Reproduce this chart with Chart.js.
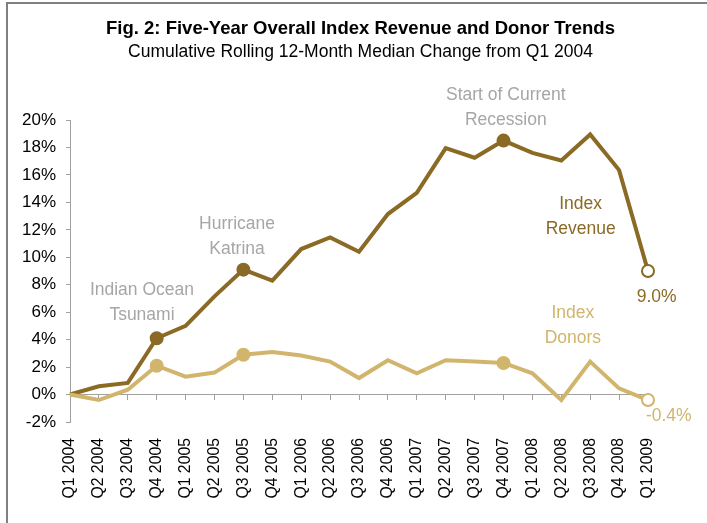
<!DOCTYPE html>
<html>
<head>
<meta charset="utf-8">
<script src="https://cdn.jsdelivr.net/npm/chart.js@4/dist/chart.umd.min.js"></script>
<style>
  body { margin: 0; background: #fff; }
  canvas { display: block; }
</style>
</head>
<body>
<canvas id="chart" width="707" height="523"></canvas>
<script>
const quarters = ["Q1 2004","Q2 2004","Q3 2004","Q4 2004","Q1 2005","Q2 2005","Q3 2005","Q4 2005",
    "Q1 2006","Q2 2006","Q3 2006","Q4 2006","Q1 2007","Q2 2007","Q3 2007","Q4 2007",
    "Q1 2008","Q2 2008","Q3 2008","Q4 2008","Q1 2009"];
const revenue = [0, 0.6, 0.85, 4.1, 5.0, 7.15, 9.1, 8.3, 10.6, 11.45, 10.4, 13.15, 14.7, 17.95, 17.25, 18.5, 17.6, 17.05, 18.95, 16.35, 9.0];
const donors  = [0, -0.4, 0.35, 2.1, 1.3, 1.6, 2.9, 3.1, 2.85, 2.4, 1.2, 2.5, 1.55, 2.5, 2.4, 2.3, 1.55, -0.4, 2.4, 0.45, -0.4];
const eventIdx = [3, 6, 15];   // tsunami, katrina, recession
const lastIdx = 20;
const yTicks = [-2, 0, 2, 4, 6, 8, 10, 12, 14, 16, 18, 20];

const revColor = "#8a6a24";
const donColor = "#d2b56c";
const noteGray = "#a6a6a6";
const axisGray = "#a0a0a0";
const fontFam = "'Liberation Sans', Arial, sans-serif";

// text notes anchored at (category index, value)
const notes = [
    { x: 2.49, y: 7.6, lines: ["Indian Ocean", "Tsunami"], color: noteGray },
    { x: 5.78, y: 12.38, lines: ["Hurricane", "Katrina"], color: noteGray },
    { x: 15.08, y: 21.8, lines: ["Start of Current", "Recession"], color: noteGray },
    { x: 17.67, y: 13.9, lines: ["Index", "Revenue"], color: revColor },
    { x: 17.4, y: 5.95, lines: ["Index", "Donors"], color: donColor },
    { x: 20.3, y: 7.1, lines: ["9.0%"], color: revColor },
    { x: 20.72, y: -1.6, lines: ["-0.4%"], color: donColor },
];

const radii = quarters.map((q, i) => (eventIdx.includes(i) || i === lastIdx) ? 6 : 0);
const fills = c => quarters.map((q, i) => i === lastIdx ? "#ffffff" : c);

const framePlugin = {
    id: "frame",
    beforeDraw(chart) {
        const ctx = chart.ctx;
        ctx.save();
        ctx.fillStyle = "#ffffff";
        ctx.fillRect(0, 0, chart.width, chart.height);
        ctx.strokeStyle = "#808080";
        ctx.lineWidth = 2;
        ctx.beginPath();
        ctx.moveTo(7, chart.height);
        ctx.lineTo(7, 3);
        ctx.lineTo(chart.width, 3);
        ctx.stroke();
        ctx.restore();
    }
};

const notesPlugin = {
    id: "notes",
    afterDatasetsDraw(chart) {
        const ctx = chart.ctx;
        const xs = chart.scales.x, ys = chart.scales.y;
        ctx.save();
        ctx.font = "17.5px " + fontFam;
        ctx.textAlign = "center";
        ctx.textBaseline = "middle";
        notes.forEach(n => {
            const px = xs.left + (xs.right - xs.left) * n.x / (quarters.length - 1);
            const py = ys.getPixelForValue(n.y);
            ctx.fillStyle = n.color;
            n.lines.forEach((t, k) => ctx.fillText(t, px, py + k * 25));
        });
        ctx.restore();
    }
};

new Chart(document.getElementById("chart"), {
    type: "line",
    data: {
        labels: quarters,
        datasets: [
            { label: "Index Revenue", data: revenue, borderColor: revColor, borderWidth: 4,
              pointRadius: radii, pointBackgroundColor: fills(revColor), pointBorderColor: revColor,
              pointBorderWidth: 2, tension: 0, order: 1, xAxisID: "x" },
            { label: "Index Donors", data: donors, borderColor: donColor, borderWidth: 4,
              pointRadius: radii, pointBackgroundColor: fills(donColor), pointBorderColor: donColor,
              pointBorderWidth: 2, tension: 0, order: 0, xAxisID: "x" },
        ]
    },
    options: {
        responsive: false,
        animation: false,
        layout: { padding: { left: 14, right: 0, top: 0, bottom: 0 } },
        plugins: {
            legend: { display: false },
            tooltip: { enabled: false },
            title: { display: true, text: "Fig. 2: Five-Year Overall Index Revenue and Donor Trends",
                color: "#000", font: { family: fontFam, size: 18.5, weight: "bold" },
                padding: { top: 18, bottom: 1 } },
            subtitle: { display: true, text: "Cumulative Rolling 12-Month Median Change from Q1 2004",
                color: "#000", font: { family: fontFam, size: 17.5 },
                padding: { top: 0, bottom: 57.8 } },
        },
        scales: {
            x: { type: "category", position: { y: 0 }, offset: false,
                grid: { display: true, drawOnChartArea: false, drawTicks: true, tickLength: 5, color: axisGray },
                border: { display: true, color: axisGray, width: 1 },
                ticks: { display: false } },
            x2: { type: "category", position: "bottom", labels: quarters, offset: false,
                grid: { display: false }, border: { display: false },
                ticks: { color: "#000", maxRotation: 90, minRotation: 90, padding: 8, autoSkip: false,
                    font: { family: fontFam, size: 15.8 } },
                afterFit(s) { s.height = 101; } },
            y: { min: -2, max: 20,
                afterBuildTicks(s) { s.ticks = yTicks.map(v => ({ value: v })); },
                afterFit(s) { s.width = 56; },
                grid: { drawOnChartArea: false, drawTicks: true, tickLength: 4, color: axisGray },
                border: { display: true, color: axisGray, width: 1 },
                ticks: { color: "#000", padding: 10, callback: v => v + "%",
                    font: { family: fontFam, size: 17 } } },
            // empty right-hand strip, keeps room for the end labels
            yRight: { position: "right", display: true,
                grid: { display: false }, border: { display: false }, ticks: { display: false },
                afterFit(s) { s.width = 59; } }
        }
    },
    plugins: [framePlugin, notesPlugin]
});
</script>
</body>
</html>
